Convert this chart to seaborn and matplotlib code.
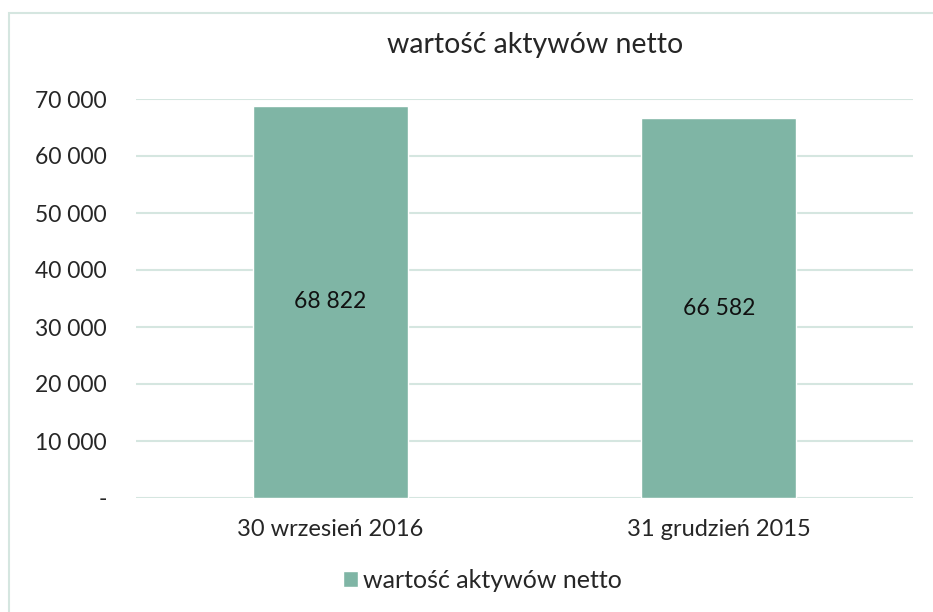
import matplotlib

matplotlib.use("Agg")
import matplotlib.pyplot as plt
import pandas as pd
import seaborn as sns
from matplotlib.patches import Rectangle

categories = ["30 wrzesień 2016", "31 grudzień 2015"]
values = [68822, 66582]
series_name = "wartość aktywów netto"
yticks = [0, 10000, 20000, 30000, 40000, 50000, 60000, 70000]

BAR = "#7fb5a5"
GRID = "#d5e6e0"
TEXT = "#262626"


def fmt(v):
    if v == 0:
        return "-"
    return f"{v:,.0f}".replace(",", " ")


sns.set_theme(style="white")
plt.rcParams["font.family"] = ["Lato", "DejaVu Sans"]

df = pd.DataFrame({"data": categories, "wartosc": values})

fig = plt.figure(figsize=(9.33, 6.12), dpi=100)
ax = fig.add_axes([136 / 933, 1 - 498 / 612, 777 / 933, 399 / 612])

sns.barplot(data=df, x="data", y="wartosc", color=BAR, width=0.4,
            saturation=1, ax=ax, label=series_name)

ax.set_ylim(0, 70000)
ax.set_yticks(yticks)
ax.set_yticklabels([fmt(v) for v in yticks], fontsize=16.5, color=TEXT)
ax.tick_params(axis="x", labelsize=17, labelcolor=TEXT, length=0, pad=15)
ax.tick_params(axis="y", length=0, pad=21)
ax.set_xlabel("")
ax.set_ylabel("")
ax.yaxis.grid(True, color=GRID, linewidth=1.5)
ax.set_axisbelow(True)
for s in ax.spines.values():
    s.set_visible(False)

for i, v in enumerate(values):
    ax.text(i, v / 2, fmt(v), ha="center", va="center", fontsize=16.5,
            color="#111111")

fig.text(535 / 933, 1 - 45 / 612, series_name, ha="center", va="center",
         fontsize=20.5, color=TEXT)

handles, labels = ax.get_legend_handles_labels()
ax.legend(handles, labels, loc="center",
          bbox_to_anchor=(482 / 933, 1 - 580 / 612),
          bbox_transform=fig.transFigure, frameon=False,
          fontsize=18, handlelength=0.6, handleheight=0.6, handletextpad=0.2,
          labelcolor=TEXT, borderpad=0)

fig.patches.append(Rectangle((8.5 / 933, -0.1), 1.1, 1 - 12.5 / 612 + 0.1,
                             transform=fig.transFigure, fill=False,
                             edgecolor=GRID, linewidth=1.5))

fig.savefig("out.png", dpi=100)
